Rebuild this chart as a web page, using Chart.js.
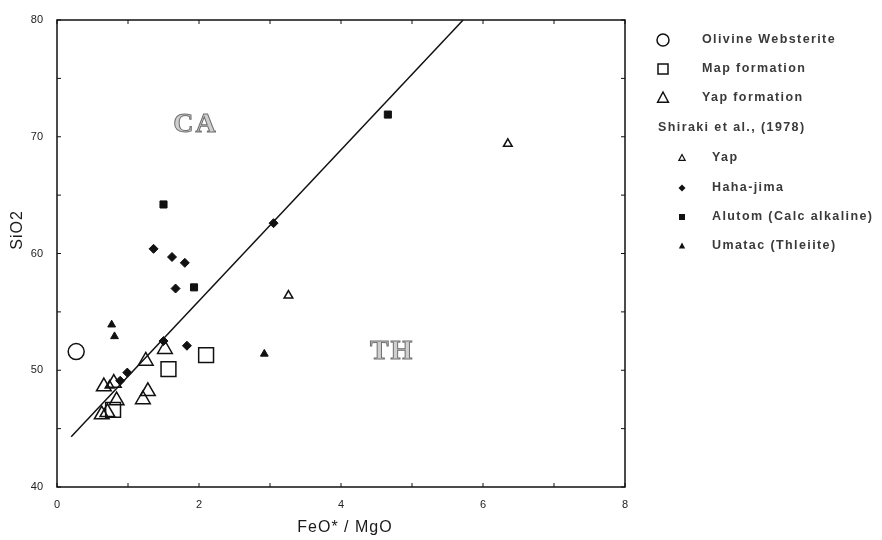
<!DOCTYPE html>
<html>
<head>
<meta charset="utf-8">
<script src="https://cdn.jsdelivr.net/npm/chart.js@4.4.1/dist/chart.umd.min.js"></script>
<style>
  body { margin: 0; background: #fff; }
</style>
</head>
<body>
<canvas id="sio2Chart" width="882" height="540"></canvas>
<script>
// values: x = FeO*/MgO, y = SiO2
var olivineX = [0.27];
var olivineY = [51.6];

var mapFmX = [2.10, 1.57, 0.79];
var mapFmY = [51.3, 50.1, 46.6];

var yapFmX = [1.52, 1.25, 0.66, 0.80, 1.28, 1.21, 0.84, 0.63, 0.71];
var yapFmY = [51.8, 50.8, 48.6, 48.9, 48.2, 47.5, 47.4, 46.2, 46.4];

// Shiraki et al. (1978)
var yapX = [6.35, 3.26, 0.74];
var yapY = [69.4, 56.4, 48.7];

var hahaX = [1.36, 1.62, 1.80, 1.67, 1.83, 3.05, 0.99, 1.50, 0.89];
var hahaY = [60.4, 59.7, 59.2, 57.0, 52.1, 62.6, 49.8, 52.5, 49.1];

var alutomX = [1.50, 1.93, 4.66];
var alutomY = [64.2, 57.1, 71.9];

var umatacX = [0.77, 0.81, 2.92];
var umatacY = [53.9, 52.9, 51.4];

// CA / TH dividing line
var divideX = [0.2, 5.72];
var divideY = [44.3, 80];

// field labels
var fieldNames = ["CA", "TH"];
var fieldX = [1.95, 4.72];
var fieldY = [71.0, 51.6];

var xTicks = [0, 1, 2, 3, 4, 5, 6, 7, 8];
var yTicks = [40, 45, 50, 55, 60, 65, 70, 75, 80];

function toPoints(xs, ys) {
  return xs.map(function (v, i) {
    return { x: v, y: ys[i] };
  });
}

function symbol(ctx, shape, cx, cy, r, filled) {
  ctx.beginPath();
  if (shape === "circle") {
    ctx.arc(cx, cy, r, 0, Math.PI * 2);
  } else if (shape === "rect") {
    ctx.rect(cx - r, cy - r, 2 * r, 2 * r);
  } else if (shape === "triangle") {
    ctx.moveTo(cx, cy - r);
    ctx.lineTo(cx + r * 0.9, cy + r * 0.7);
    ctx.lineTo(cx - r * 0.9, cy + r * 0.7);
    ctx.closePath();
  } else if (shape === "diamond") {
    ctx.moveTo(cx, cy - r);
    ctx.lineTo(cx + r, cy);
    ctx.lineTo(cx, cy + r);
    ctx.lineTo(cx - r, cy);
    ctx.closePath();
  }
  if (filled) {
    ctx.fill();
  } else {
    ctx.stroke();
  }
}

var framePlugin = {
  id: "frame",
  afterDraw: function (chart) {
    var ctx = chart.ctx;
    var a = chart.chartArea;
    var xs = chart.scales.x;
    var ys = chart.scales.y;
    ctx.save();
    ctx.strokeStyle = "#111";
    ctx.lineWidth = 1.5;
    ctx.strokeRect(a.left, a.top, a.right - a.left, a.bottom - a.top);

    // inward ticks on all four sides
    ctx.lineWidth = 1;
    ctx.beginPath();
    xTicks.forEach(function (t) {
      var px = xs.getPixelForValue(t);
      ctx.moveTo(px, a.bottom);
      ctx.lineTo(px, a.bottom - 4);
      ctx.moveTo(px, a.top);
      ctx.lineTo(px, a.top + 4);
    });
    yTicks.forEach(function (t) {
      var py = ys.getPixelForValue(t);
      ctx.moveTo(a.left, py);
      ctx.lineTo(a.left + 4, py);
      ctx.moveTo(a.right, py);
      ctx.lineTo(a.right - 4, py);
    });
    ctx.stroke();

    // axis titles
    ctx.fillStyle = "#1a1a1a";
    ctx.textAlign = "center";
    ctx.textBaseline = "middle";
    ctx.letterSpacing = "1px";
    ctx.font = "16px 'Liberation Sans'";
    ctx.fillText("FeO* / MgO", (a.left + a.right) / 2 + 4, 528);
    ctx.save();
    ctx.translate(18, 230);
    ctx.rotate(-Math.PI / 2);
    ctx.fillText("SiO2", 0, 0);
    ctx.restore();

    // CA / TH labels
    ctx.font = "bold 28px 'Liberation Serif'";
    ctx.letterSpacing = "2px";
    ctx.fillStyle = "#cfcfcf";
    ctx.strokeStyle = "#707070";
    ctx.lineWidth = 1;
    fieldNames.forEach(function (n, i) {
      var px = xs.getPixelForValue(fieldX[i]);
      var py = ys.getPixelForValue(fieldY[i]);
      ctx.fillText(n, px, py);
      ctx.strokeText(n, px, py);
    });

    // legend
    ctx.letterSpacing = "1.4px";
    ctx.font = "bold 12.5px 'Liberation Sans'";
    ctx.textAlign = "left";
    ctx.fillStyle = "#3a3a3a";
    ctx.strokeStyle = "#111";
    ctx.lineWidth = 1.5;
    var big = [
      ["circle", "Olivine Websterite", 40],
      ["rect", "Map formation", 69],
      ["triangle", "Yap formation", 98]
    ];
    big.forEach(function (b) {
      symbol(ctx, b[0], 663, b[2], b[0] === "rect" ? 5 : 6, false);
      ctx.fillText(b[1], 702, b[2]);
    });
    ctx.fillText("Shiraki et al., (1978)", 658, 128);
    var small = [
      ["triangle", false, "Yap", 158],
      ["diamond", true, "Haha-jima", 188],
      ["rect", true, "Alutom (Calc alkaline)", 217],
      ["triangle", true, "Umatac (Thleiite)", 246]
    ];
    small.forEach(function (s) {
      ctx.fillStyle = "#111";
      ctx.lineWidth = 1.2;
      symbol(ctx, s[0], 682, s[3], s[0] === "rect" ? 3 : 3.5, s[1]);
      ctx.fillStyle = "#3a3a3a";
      ctx.fillText(s[2], 712, s[3]);
    });
    ctx.restore();
  }
};

var tickFont = { family: "'Liberation Sans'", size: 11 };

new Chart(document.getElementById("sio2Chart"), {
  type: "scatter",
  data: {
    datasets: [
      {
        type: "line",
        label: "CA/TH",
        data: toPoints(divideX, divideY),
        borderColor: "#111",
        borderWidth: 1.5,
        pointRadius: 0,
        fill: false
      },
      {
        label: "Olivine Websterite",
        data: toPoints(olivineX, olivineY),
        pointStyle: "circle",
        pointRadius: 8,
        borderColor: "#111",
        borderWidth: 1.5,
        backgroundColor: "rgba(0,0,0,0)"
      },
      {
        label: "Map formation",
        data: toPoints(mapFmX, mapFmY),
        pointStyle: "rect",
        pointRadius: 10.5,
        borderColor: "#111",
        borderWidth: 1.5,
        backgroundColor: "rgba(0,0,0,0)"
      },
      {
        label: "Yap formation",
        data: toPoints(yapFmX, yapFmY),
        pointStyle: "triangle",
        pointRadius: 8.5,
        borderColor: "#111",
        borderWidth: 1.5,
        backgroundColor: "rgba(0,0,0,0)"
      },
      {
        label: "Yap",
        data: toPoints(yapX, yapY),
        pointStyle: "triangle",
        pointRadius: 5,
        borderColor: "#111",
        borderWidth: 1.5,
        backgroundColor: "rgba(0,0,0,0)"
      },
      {
        label: "Haha-jima",
        data: toPoints(hahaX, hahaY),
        pointStyle: "rectRot",
        pointRadius: 4.5,
        borderColor: "#111",
        borderWidth: 1,
        backgroundColor: "#111"
      },
      {
        label: "Alutom (Calc alkaline)",
        data: toPoints(alutomX, alutomY),
        pointStyle: "rect",
        pointRadius: 5,
        borderColor: "#111",
        borderWidth: 1,
        backgroundColor: "#111"
      },
      {
        label: "Umatac (Thleiite)",
        data: toPoints(umatacX, umatacY),
        pointStyle: "triangle",
        pointRadius: 4.5,
        borderColor: "#111",
        borderWidth: 1,
        backgroundColor: "#111"
      }
    ]
  },
  options: {
    responsive: false,
    animation: false,
    layout: { padding: { top: 20, right: 257, left: 0, bottom: 0 } },
    plugins: {
      legend: { display: false },
      tooltip: { enabled: false }
    },
    scales: {
      x: {
        type: "linear",
        min: 0,
        max: 8,
        afterBuildTicks: function (s) {
          s.ticks = xTicks.map(function (v) { return { value: v }; });
        },
        ticks: {
          autoSkip: false,
          maxRotation: 0,
          font: tickFont,
          color: "#222",
          padding: 3,
          callback: function (v) { return v % 2 === 0 ? v : ""; }
        },
        grid: { display: false },
        border: { display: false },
        afterFit: function (s) { s.height = 53; }
      },
      y: {
        type: "linear",
        min: 40,
        max: 80,
        afterBuildTicks: function (s) {
          s.ticks = yTicks.map(function (v) { return { value: v }; });
        },
        ticks: {
          autoSkip: false,
          font: tickFont,
          color: "#222",
          padding: 6,
          callback: function (v) { return v % 10 === 0 ? v : ""; }
        },
        grid: { display: false },
        border: { display: false },
        afterFit: function (s) { s.width = 57; }
      }
    }
  },
  plugins: [framePlugin]
});
</script>
</body>
</html>
